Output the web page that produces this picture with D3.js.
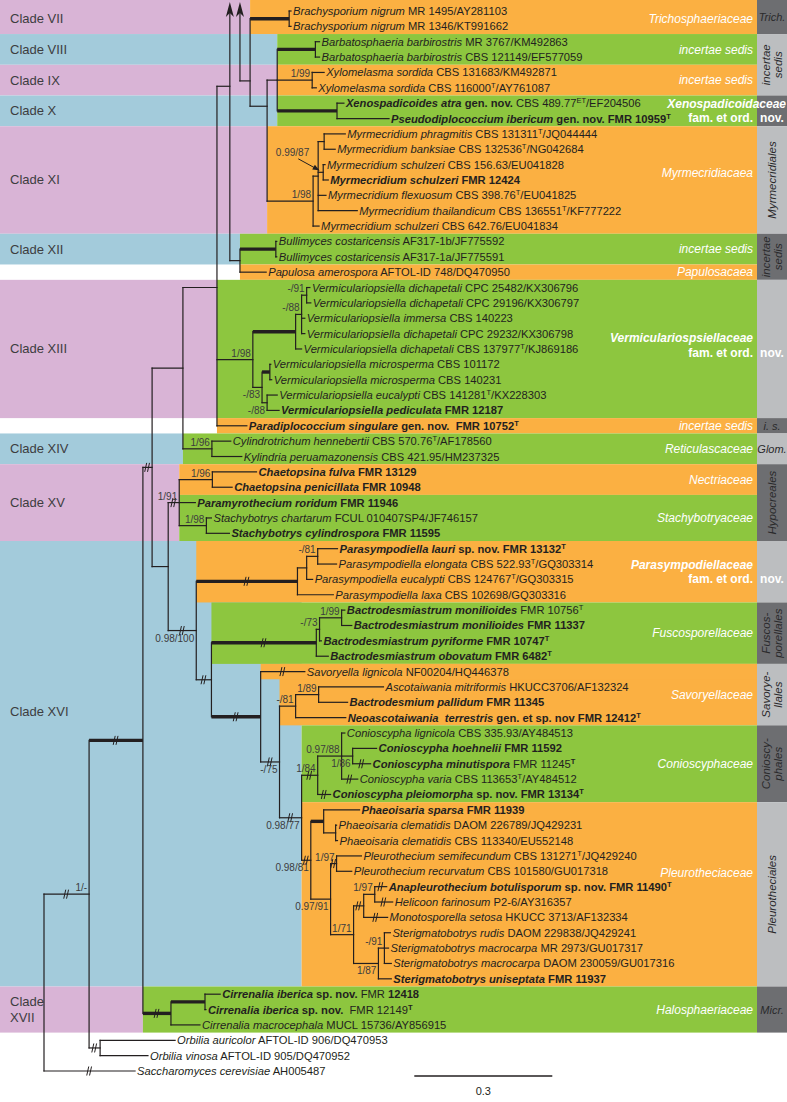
<!DOCTYPE html>
<html><head><meta charset="utf-8">
<script src="https://cdn.jsdelivr.net/npm/d3@7/dist/d3.min.js"></script>
<style>
body{margin:0;background:#fff;}
svg{display:block;font-family:"Liberation Sans",Arial,sans-serif;}
text{white-space:pre;}
</style></head><body>
<svg id="c" width="787" height="1102"></svg>
<script>
// ---------------- DATA ----------------
// Tree edges: [node id, parent id, branch length (subst./site as drawn)]
const treeEdges = [
 ["top","",0],
 ["N44","top",0],
 ["N89","N44",0.098],["N143","N89",0.117],["N152","N143",0.020],["N183","N152",0.067],
 ["N217","N183",0.074],["A","N217",0.028],["CXII","A",0.022],["Bull","CXII",0.078],
 ["L16","Bull",0.002],["L17","Bull",0.002],["L18","CXII",0.057],
 ["V1","N217",0.078],["V2","V1",0.093],["V2b","V2",0.013],["V2c","V2b",0.011],
 ["L19","V2c",0.007],["L20","V2c",0.009],["L21","V2b",0.007],["L22","V2b",0.007],["L23","V2",0.013],
 ["V3","V1",0.020],["VM","V3",0.017],["L24","VM",0.002],["L25","VM",0.004],
 ["VE","V3",0.011],["L26","VE",0.022],["L27","VE",0.026],["L28","N217",0.065],
 ["Glom","N183",0.063],["L29","Glom",0.041],["L30","Glom",0.065],
 ["N168","N152",0.035],["Hypo","N168",0.024],["Chaet","Hypo",0.072],["L31","Chaet",0.096],["L32","Chaet",0.043],
 ["L33","Hypo",0.035],["Stachy","Hypo",0.059],["L34","Stachy",0.011],["L35","Stachy",0.050],
 ["N196","N168",0.061],["P1","N196",0.220],["P2","P1",0.020],["P3","P2",0.024],
 ["L36","P3",0.043],["L37","P3",0.041],["L38","P2",0.013],["L39","P1",0.078],
 ["N211","N196",0.033],["F1","N211",0.228],["F2","F1",0.007],["F3","F2",0.048],
 ["L40","F3",0.007],["L41","F3",0.022],["L42","F2",0.004],["L43","F1",0.026],
 ["S1","N211",0.107],["L44","S1",0.096],["S2","S1",0.041],["SV1","S2",0.035],["SV2","SV1",0.050],
 ["L45","SV2",0.141],["L46","SV2",0.063],["L47","SV1",0.109],
 ["S3","S2",0.048],["C1","S3",0.035],["C2","C1",0.052],["L48","C2",0.007],["C3","C2",0.024],
 ["L49","C3",0.052],["L50","C3",0.039],["L51","C2",0.035],["L52","C1",0.028],
 ["PL1","S3",0.020],["PL2","PL1",0.028],["L53","PL2",0.078],["PL2b","PL2",0.026],
 ["L54","PL2b",0.002],["L55","PL2b",0.004],["PL3","PL1",0.043],["PL9","PL3",0.013],
 ["L56","PL9",0.054],["L57","PL9",0.033],["PL4","PL3",0.050],["PL5","PL4",0.022],["PL6","PL5",0.024],
 ["L58","PL6",0.026],["L59","PL6",0.039],["L60","PL5",0.052],["PL7","PL4",0.054],["PL8","PL7",0.013],
 ["L61","PL8",0.013],["L62","PL8",0.009],["L63","PL8",0.015],["L64","PL7",0.028],
 ["Cirr","N143",0.061],["CI","Cirr",0.074],["L65","CI",0.033],["L66","CI",0.002],["L67","Cirr",0.063],
 ["Orb","N89",0.024],["L68","Orb",0.163],["L69","Orb",0.104],["L70","N44",0.198],
 ["B","top",0.426],["N250","B",0.022],["Brach","N250",0.085],["L1","Brach",0.004],["L2","Brach",0.004],
 ["N267","N250",0.037],["N277","N267",0.022],["Barb","N277",0.083],["L3","Barb",0.009],["L4","Barb",0.009],
 ["Xylo","N277",0.076],["L5","Xylo",0.026],["L6","Xylo",0.009],
 ["Xeno","N277",0.130],["L7","Xeno",0.015],["L8","Xeno",0.113],
 ["M1","N267",0.100],["M2","M1",0.011],["M3","M2",0.013],["L9","M3",0.046],["L10","M3",0.024],
 ["M4","M2",0.011],["L11","M4",0.004],["L12","M4",0.011],["L13","M2",0.017],["L14","M2",0.085],["L15","M1",0.013]
];

// Leaf labels, row order top to bottom ({i:} italic, {b:} bold, {bi:} bold italic, {s:}/{bs:} superscript)
const leafLabels = [
"{i:Brachysporium nigrum} MR 1495/AY281103",
"{i:Brachysporium nigrum} MR 1346/KT991662",
"{i:Barbatosphaeria barbirostris} MR 3767/KM492863",
"{i:Barbatosphaeria barbirostris} CBS 121149/EF577059",
"{i:Xylomelasma sordida} CBS 131683/KM492871",
"{i:Xylomelasma sordida} CBS 116000{s:T}/AY761087",
"{bi:Xenospadicoides atra}{b: gen. nov.} CBS 489.77{s:ET}/EF204506",
"{bi:Pseudodiplococcium ibericum}{b: gen. nov. FMR 10959}{bs:T}",
"{i:Myrmecridium phragmitis} CBS 131311{s:T}/JQ044444",
"{i:Myrmecridium banksiae} CBS 132536{s:T}/NG042684",
"{i:Myrmecridium schulzeri} CBS 156.63/EU041828",
"{bi:Myrmecridium schulzeri}{b: FMR 12424}",
"{i:Myrmecridium flexuosum} CBS 398.76{s:T}/EU041825",
"{i:Myrmecridium thailandicum} CBS 136551{s:T}/KF777222",
"{i:Myrmecridium schulzeri} CBS 642.76/EU041834",
"{i:Bullimyces costaricensis} AF317-1b/JF775592",
"{i:Bullimyces costaricensis} AF317-1a/JF775591",
"{i:Papulosa amerospora} AFTOL-ID 748/DQ470950",
"{i:Vermiculariopsiella dichapetali} CPC 25482/KX306796",
"{i:Vermiculariopsiella dichapetali} CPC 29196/KX306797",
"{i:Vermiculariopsiella immersa} CBS 140223",
"{i:Vermiculariopsiella dichapetali} CPC 29232/KX306798",
"{i:Vermiculariopsiella dichapetali} CBS 137977{s:T}/KJ869186",
"{i:Vermiculariopsiella microsperma} CBS 101172",
"{i:Vermiculariopsiella microsperma} CBS 140231",
"{i:Vermiculariopsiella eucalypti} CBS 141281{s:T}/KX228303",
"{bi:Vermiculariopsiella pediculata}{b: FMR 12187}",
"{bi:Paradiplococcium singulare}{b: gen. nov.  FMR 10752}{bs:T}",
"{i:Cylindrotrichum hennebertii} CBS 570.76{s:T}/AF178560",
"{i:Kylindria peruamazonensis} CBS 421.95/HM237325",
"{bi:Chaetopsina fulva}{b: FMR 13129}",
"{bi:Chaetopsina penicillata}{b: FMR 10948}",
"{bi:Paramyrothecium roridum}{b: FMR 11946}",
"{i:Stachybotrys chartarum} FCUL 010407SP4/JF746157",
"{bi:Stachybotrys cylindrospora}{b: FMR 11595}",
"{bi:Parasympodiella lauri}{b: sp. nov. FMR 13132}{bs:T}",
"{i:Parasympodiella elongata} CBS 522.93{s:T}/GQ303314",
"{i:Parasympodiella eucalypti} CBS 124767{s:T}/GQ303315",
"{i:Parasympodiella laxa} CBS 102698/GQ303316",
"{bi:Bactrodesmiastrum monilioides} FMR 10756{s:T}",
"{bi:Bactrodesmiastrum monilioides}{b: FMR 11337}",
"{bi:Bactrodesmiastrum pyriforme}{b: FMR 10747}{bs:T}",
"{bi:Bactrodesmiastrum obovatum}{b: FMR 6482}{bs:T}",
"{i:Savoryella lignicola} NF00204/HQ446378",
"{i:Ascotaiwania mitriformis} HKUCC3706/AF132324",
"{bi:Bactrodesmium pallidum}{b: FMR 11345}",
"{bi:Neoascotaiwania  terrestris}{b: gen. et sp. nov FMR 12412}{bs:T}",
"{i:Conioscypha lignicola} CBS 335.93/AY484513",
"{bi:Conioscypha hoehnelii}{b: FMR 11592}",
"{bi:Conioscypha minutispora} FMR 11245{bs:T}",
"{i:Conioscypha varia} CBS 113653{s:T}/AY484512",
"{bi:Conioscypha pleiomorpha}{b: sp. nov. FMR 13134}{bs:T}",
"{bi:Phaeoisaria sparsa}{b: FMR 11939}",
"{i:Phaeoisaria clematidis} DAOM 226789/JQ429231",
"{i:Phaeoisaria clematidis} CBS 113340/EU552148",
"{i:Pleurothecium semifecundum} CBS 131271{s:T}/JQ429240",
"{i:Pleurothecium recurvatum} CBS 101580/GU017318",
"{bi:Anapleurothecium botulisporum}{b: sp. nov. FMR 11490}{bs:T}",
"{i:Helicoon farinosum} P2-6/AY316357",
"{i:Monotosporella setosa} HKUCC 3713/AF132334",
"{i:Sterigmatobotrys rudis} DAOM 229838/JQ429241",
"{i:Sterigmatobotrys macrocarpa} MR 2973/GU017317",
"{i:Sterigmatobotrys macrocarpa} DAOM 230059/GU017316",
"{bi:Sterigmatobotrys uniseptata}{b: FMR 11937}",
"{bi:Cirrenalia iberica}{b: sp. nov.} FMR {b:12418}",
"{bi:Cirrenalia iberica}{b: sp. nov.}  FMR 12149{bs:T}",
"{i:Cirrenalia macrocephala} MUCL 15736/AY856915",
"{i:Orbilia auricolor} AFTOL-ID 906/DQ470953",
"{i:Orbilia vinosa} AFTOL-ID 905/DQ470952",
"{i:Saccharomyces cerevisiae} AH005487"
];

// Support values (BI posterior / ML bootstrap): [node, text]
const supportValues = [
 ["Xylo","1/99"],["M1","1/98"],["M4","0.99/87"],["V1","1/98"],["V2b","-/88"],["V2c","-/91"],
 ["V3","-/83"],["VE","-/88"],["Glom","1/96"],["Hypo","1/91"],["Chaet","1/96"],["Stachy","1/98"],
 ["N196","0.98/100"],["P3","-/81"],["F2","-/73"],["F3","1/99"],["SV1","-/81"],["SV2","1/89"],
 ["S2","-/75"],["S3","0.98/77"],["C1","1/84"],["C2","0.97/88"],["C3","1/86"],["PL1","0.98/81"],
 ["PL3","0.97/91"],["PL9","1/97"],["PL4","1/71"],["PL6","1/97"],["PL8","-/91"],["PL7","1/87"],["N89","1/-"]
];
const thickEdges = ["Brach","Barb","Xeno","Bull","V2","VM","P1","F1","S1","Cirr","CI","N143","PL2"];
const breakEdges = ["N89","N143","N152","Hypo","N196","P1","N211","F1","S1","L44","S2","S3","C1",
 "L50","L51","L52","PL1","PL9","PL5","L58","L59","L60","Cirr","Orb","L70"];
const arrowNodes = ["A","B"];

// Clade bands: [label, firstRow, lastRow, node where band ends]
const cladeBands = [
 ["Clade VII",1,2,"N250"],["Clade VIII",3,4,"N277"],["Clade IX",5,6,"N277"],["Clade X",7,8,"N277"],
 ["Clade XI",9,15,"N267"],["Clade XII",16,17,"CXII"],["Clade XIII",19,27,"N217"],["Clade XIV",29,30,"N183"],
 ["Clade XV",31,35,"Hypo"],["Clade XVI",36,64,"S3"],["Clade|XVII",65,67,"N143"]
];
// Family bands: [label, firstRow, lastRow, node where band starts]
const familyBands = [
 ["Trichosphaeriaceae",1,2,"N250"],["incertae sedis",3,4,"N277"],["incertae sedis",5,6,"N277"],
 ["Xenospadicoidaceae|fam. et ord.",7,8,"N277"],["Myrmecridiacaea",9,15,"N267"],["incertae sedis",16,17,"CXII"],
 ["Papulosacaea",18,18,"CXII"],["Vermiculariospsiellaceae|fam. et ord.",19,27,"N217"],["incertae sedis",28,28,"N217"],
 ["Reticulascaceae",29,30,"N183"],["Nectriaceae",31,32,"Hypo"],["Stachybotryaceae",33,35,"Hypo"],
 ["Parasympodiellaceae|fam. et ord.",36,39,"N196"],["Fuscosporellaceae",40,43,"N211"],["Savoryellaceae",44,47,"S2"],
 ["Conioscyphaceae",48,52,"S3"],["Pleurotheciaceae",53,64,"S3"],["Halosphaeriaceae",65,67,"N143"]
];
const familySteps = [["Savoryellaceae",44,"S1"]];
// Order column: [label, firstRow, lastRow]
const orderGroups = [
 ["Trich.",1,2],["incertae|sedis",3,6],["nov.",7,8],["Myrmecridiales",9,15],["incertae|sedis",16,18],
 ["nov.",19,27],["i. s.",28,28],["Glom.",29,30],["Hypocreales",31,35],["nov.",36,39],
 ["Fuscos-|porellales",40,43],["Savorye-|llales",44,47],["Conioscy-|phales",48,52],
 ["Pleurotheciales",53,64],["Micr.",65,67]
];
const scaleBarValue = 0.3;

// ---------------- LAYOUT ----------------
const nodeRowOverrides = {N217:19, A:5.9, N250:5.55, N267:7.2};
const labelRowOverrides = {"Clade XVI":46.6, "Myrmecridiacaea":11.55, "Pleurotheciaceae":57.1,
  "Vermiculariospsiellaceae|fam. et ord.":22.75};
const supportsBelow = ["V3","VE","N196","S2","S3","C3","PL1","PL3","PL7"];
const calloutNode = "M4";
const COL = {pink:"#d9b4d6", blue:"#a3cbdb", orange:"#fbb042", green:"#8dc63f",
             dark:"#6d6e71", light:"#bcbec0", ink:"#231f20", sup:"#3c3c3e"};
const colX0 = 757, colX1 = 787, famRight = 753;
const xScale = d3.scaleLinear().domain([0,1]).range([44,504]);
const yScale = d3.scaleLinear().domain([1,70]).range([11,1071]);
const half = (yScale(2)-yScale(1))/2;
const bandTop = r => r===1 ? 0 : yScale(r)-half;
const bandBot = r => yScale(r)+half;

const svg = d3.select("#c");

// hierarchy
const root = d3.stratify().id(d=>d[0]).parentId(d=>d[1]||null)(treeEdges);
root.eachBefore(n => { n.dist = n.parent ? n.parent.dist + n.data[2] : 0; n.px = xScale(n.dist); });
root.eachAfter(n => {
  if (!n.children) n.row = +n.id.slice(1);
  else if (n.id in nodeRowOverrides) n.row = nodeRowOverrides[n.id];
  else { const rs = n.children.map(c=>c.row); n.row = (d3.min(rs)+d3.max(rs))/2; }
  n.py = yScale(n.row);
});
const byId = new Map(root.descendants().map(n=>[n.id,n]));

// ---- bands ----
const gB = svg.append("g");
cladeBands.forEach((d,i) => {
  gB.append("rect").attr("x",0).attr("y",bandTop(d[1])).attr("width",byId.get(d[3]).px)
    .attr("height",bandBot(d[2])-bandTop(d[1])).attr("fill", i%2 ? COL.blue : COL.pink);
});
const famColor = {};
familyBands.forEach((d,i) => {
  const c = i%2 ? COL.green : COL.orange; famColor[d[0]] = c;
  gB.append("rect").attr("x",byId.get(d[3]).px).attr("y",bandTop(d[1]))
    .attr("width",colX0-byId.get(d[3]).px).attr("height",bandBot(d[2])-bandTop(d[1])).attr("fill",c);
});
familySteps.forEach(d => {
  const x = byId.get(d[2]).px;
  gB.append("rect").attr("x",x).attr("y",bandTop(d[1])).attr("width",colX0-x)
    .attr("height",bandBot(d[1])-bandTop(d[1])).attr("fill",famColor[d[0]]);
});
orderGroups.forEach((d,i) => {
  gB.append("rect").attr("x",colX0).attr("y",bandTop(d[1])).attr("width",colX1-colX0)
    .attr("height",bandBot(d[2])-bandTop(d[1])).attr("fill", i%2 ? COL.light : COL.dark);
});

// ---- clade labels ----
cladeBands.forEach(d => {
  const r = labelRowOverrides[d[0]] ?? (d[1]+d[2])/2;
  const lines = d[0].split("|");
  lines.forEach((ln,k) => {
    svg.append("text").attr("x",10).attr("y",yScale(r)+4.5+(k-(lines.length-1)/2)*16)
      .attr("font-size",13).attr("fill","#3d3d3f").text(ln);
  });
});

// ---- family labels ----
familyBands.forEach(d => {
  const r = labelRowOverrides[d[0]] ?? (d[1]+d[2])/2;
  const lines = d[0].split("|");
  const isNew = lines.length > 1;
  const yc = yScale(r);
  lines.forEach((ln,k) => {
    const y = yc + 4.2 + (k-(lines.length-1)/2)*14.5;
    const wide = k===0 && d[0].startsWith("Xeno");
    svg.append("text").attr("x", wide ? 786 : famRight).attr("y", y).attr("text-anchor","end")
      .attr("font-size",12).attr("fill","#fff")
      .attr("font-style", k===0 ? "italic" : "normal")
      .attr("font-weight", isNew ? "bold" : "normal").text(ln);
  });
});

// ---- order column labels ----
const cx = (colX0+colX1)/2;
orderGroups.forEach(d => {
  const lines = d[0].split("|");
  if (d[0] === "nov.") {
    const fam = familyBands.find(f => f[1]===d[1]);
    const r = labelRowOverrides[fam[0]] ?? (fam[1]+fam[2])/2;
    svg.append("text").attr("x",cx).attr("y",yScale(r)+4.2+7.25).attr("text-anchor","middle")
      .attr("font-size",12).attr("font-weight","bold").attr("fill","#fff").text("nov.");
    return;
  }
  const yc = (bandTop(d[1])+bandBot(d[2]))/2;
  const rotate = (d[2]-d[1] >= 2) && d[0].length > 5;
  if (rotate) {
    lines.forEach((ln,k) => {
      const off = (k-(lines.length-1)/2)*12.5;
      svg.append("text").attr("transform",`translate(${cx+off+4},${yc}) rotate(-90)`)
        .attr("text-anchor","middle").attr("font-size",11.5).attr("font-style","italic")
        .attr("fill","#2a2a2c").text(ln);
    });
  } else {
    svg.append("text").attr("x",cx).attr("y",yc+4).attr("text-anchor","middle")
      .attr("font-size",11).attr("font-style","italic").attr("fill","#2a2a2c").text(d[0]);
  }
});

// ---- tree ----
const gT = svg.append("g").attr("stroke",COL.ink).attr("fill","none").attr("stroke-linecap","square");
const nodes = root.descendants().filter(n => n.id !== "top");
const arrowTip = 2;
nodes.filter(n => n.children).forEach(n => {
  const ys = n.children.map(c=>c.py).concat([n.py]);
  let y0 = d3.min(ys), y1 = d3.max(ys);
  if (arrowNodes.includes(n.id)) y0 = arrowTip + 10;
  if (y1 > y0) gT.append("line").attr("x1",n.px).attr("x2",n.px).attr("y1",y0).attr("y2",y1).attr("stroke-width",1.2);
});
nodes.filter(n => n.parent && n.parent.id !== "top").forEach(n => {
  const thick = thickEdges.includes(n.id);
  gT.append("line").attr("x1",n.parent.px).attr("x2",n.px).attr("y1",n.py).attr("y2",n.py)
    .attr("stroke-width", thick ? 3.4 : 1.2).attr("stroke-linecap", thick ? "butt" : "square");
});
// arrowheads
arrowNodes.forEach(id => {
  const n = byId.get(id);
  svg.append("path").attr("d",`M${n.px},${arrowTip} L${n.px+4},${arrowTip+15} L${n.px},${arrowTip+11} L${n.px-4},${arrowTip+15} Z`)
    .attr("fill",COL.ink);
});
// break marks
breakEdges.forEach(id => {
  const n = byId.get(id);
  const mx = (n.parent.px + n.px)/2;
  [0,2.8].forEach(o => {
    gT.append("line").attr("x1",mx-2.8+o).attr("y1",n.py+4.5).attr("x2",mx-0.8+o).attr("y2",n.py-4.5)
      .attr("stroke-width",1).attr("stroke-linecap","butt");
  });
});

// ---- support values ----
supportValues.forEach(([id,t]) => {
  const n = byId.get(id);
  if (id === calloutNode) {
    svg.append("text").attr("x",n.px-14).attr("y",n.py-16.5).attr("text-anchor","end")
      .attr("font-size",10).attr("fill",COL.sup).text(t);
    const x1 = n.px-25, y1 = n.py-13.5, x2 = n.px-4, y2 = n.py-2;
    svg.append("line").attr("x1",x1).attr("y1",y1).attr("x2",x2).attr("y2",y2).attr("stroke",COL.ink).attr("stroke-width",1);
    const a = Math.atan2(y2-y1,x2-x1), L = 7, w = 0.4;
    svg.append("path").attr("d",`M${x2},${y2} L${x2-L*Math.cos(a-w)},${y2-L*Math.sin(a-w)} L${x2-L*Math.cos(a+w)},${y2-L*Math.sin(a+w)} Z`)
      .attr("fill",COL.ink);
    return;
  }
  const below = supportsBelow.includes(id);
  svg.append("text").attr("x",n.px-2).attr("y", below ? n.py+11 : n.py-3).attr("text-anchor","end")
    .attr("font-size",10).attr("fill",COL.sup).text(t);
});

// ---- leaf labels ----
const styleOf = {i:{fs:"italic",fw:"normal"}, b:{fs:"normal",fw:"bold"}, bi:{fs:"italic",fw:"bold"},
                 s:{fs:"normal",fw:"normal",sup:true}, bs:{fs:"normal",fw:"bold",sup:true}};
root.leaves().filter(n=>n.id!=="top").forEach(n => {
  const label = leafLabels[n.row-1];
  const t = svg.append("text").attr("x",n.px+2).attr("y",n.py+4).attr("font-size",11.2).attr("fill",COL.ink);
  const re = /\{(\w+):([^}]*)\}|([^{]+)/g; let m, shifted = false;
  while ((m = re.exec(label)) !== null) {
    const st = m[1] ? styleOf[m[1]] : {fs:"normal",fw:"normal"};
    const txt = m[1] ? m[2] : m[3];
    const sp = t.append("tspan").attr("font-style",st.fs).attr("font-weight",st.fw).text(txt);
    if (st.sup) { sp.attr("font-size",7.5).attr("dy",-4); shifted = true; }
    else if (shifted) { sp.attr("dy",4); shifted = false; }
  }
});

// ---- scale bar ----
const sb0 = 0.805;
svg.append("line").attr("x1",xScale(sb0)).attr("x2",xScale(sb0+scaleBarValue)).attr("y1",1076).attr("y2",1076)
  .attr("stroke",COL.ink).attr("stroke-width",1.3);
svg.append("text").attr("x",xScale(sb0+scaleBarValue/2)).attr("y",1095).attr("text-anchor","middle")
  .attr("font-size",11).attr("fill",COL.ink).text(String(scaleBarValue));
</script>
</body></html>
